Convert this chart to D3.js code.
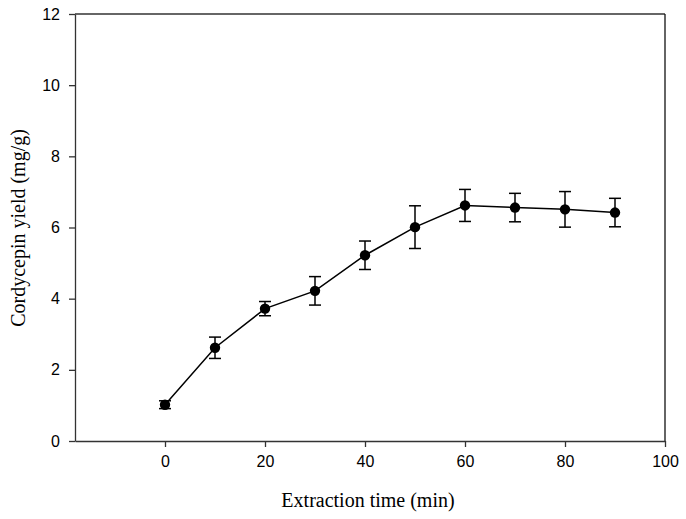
<!DOCTYPE html>
<html><head><meta charset="utf-8">
<script src="https://cdn.jsdelivr.net/npm/d3@7"></script>
<style>body{margin:0;background:#fff;} svg{display:block;}</style>
</head><body>
<script>
const times = [0, 10, 20, 30, 40, 50, 60, 70, 80, 90];
const yields = [1.02, 2.62, 3.72, 4.22, 5.22, 6.01, 6.62, 6.56, 6.51, 6.42];
const errors = [0.11, 0.30, 0.20, 0.40, 0.40, 0.60, 0.45, 0.40, 0.50, 0.40];
const xTicks = [0, 20, 40, 60, 80, 100];
const yTicks = [0, 2, 4, 6, 8, 10, 12];
const xTitle = "Extraction time (min)";
const yTitle = "Cordycepin yield (mg/g)";

const W = 686, H = 519;
const m = {left: 75, top: 14, right: 665, bottom: 441};
const svg = d3.select("body").append("svg").attr("width", W).attr("height", H);
const x = d3.scaleLinear().domain([-18, 100]).range([m.left, m.right]);
const y = d3.scaleLinear().domain([0, 12]).range([m.bottom, m.top]);

const axisColor = "#333";
svg.append("line").attr("x1", m.left).attr("x2", m.right).attr("y1", m.top).attr("y2", m.top)
  .attr("stroke", axisColor).attr("stroke-width", 1.3);
svg.append("line").attr("x1", m.right).attr("x2", m.right).attr("y1", m.top).attr("y2", m.bottom)
  .attr("stroke", "#111").attr("stroke-width", 1.3);

const xa = svg.append("g").attr("transform", `translate(0,${m.bottom})`)
  .call(d3.axisBottom(x).tickValues(xTicks).tickSize(6).tickPadding(9).tickSizeOuter(0));
const ya = svg.append("g").attr("transform", `translate(${m.left},0)`)
  .call(d3.axisLeft(y).tickValues(yTicks).tickSize(6).tickPadding(9).tickSizeOuter(0));
[xa, ya].forEach(a => {
  a.select(".domain").attr("stroke", axisColor).attr("stroke-width", 1.3);
  a.selectAll(".tick line").attr("stroke", axisColor).attr("stroke-width", 1.3);
  a.selectAll(".tick text").attr("fill", "#000").style("font-family", "'Liberation Sans', Arial, sans-serif").style("font-size", "16px");
});

svg.append("path").datum(times.map((t, i) => [t, yields[i]]))
  .attr("fill", "none").attr("stroke", "#000").attr("stroke-width", 1.5)
  .attr("d", d3.line().x(d => x(d[0])).y(d => y(d[1])));

const eb = svg.append("g").attr("stroke", "#000").attr("stroke-width", 1.5);
times.forEach((t, i) => {
  const cx = x(t), y1 = y(yields[i] + errors[i]), y0 = y(yields[i] - errors[i]);
  eb.append("line").attr("x1", cx).attr("x2", cx).attr("y1", y1).attr("y2", y0);
  eb.append("line").attr("x1", cx - 6).attr("x2", cx + 6).attr("y1", y1).attr("y2", y1);
  eb.append("line").attr("x1", cx - 6).attr("x2", cx + 6).attr("y1", y0).attr("y2", y0);
});

svg.append("g").selectAll("circle").data(times).join("circle")
  .attr("cx", d => x(d)).attr("cy", (d, i) => y(yields[i])).attr("r", 5.2).attr("fill", "#000");

svg.append("text").attr("x", (m.left + m.right) / 2 - 2).attr("y", 507)
  .attr("text-anchor", "middle").style("font-family", "'Liberation Serif', 'Times New Roman', serif")
  .style("font-size", "20px").text(xTitle);
svg.append("text").attr("transform", "translate(25,228) rotate(-90)")
  .attr("text-anchor", "middle").style("font-family", "'Liberation Serif', 'Times New Roman', serif")
  .style("font-size", "20px").text(yTitle);
</script>
</body></html>
